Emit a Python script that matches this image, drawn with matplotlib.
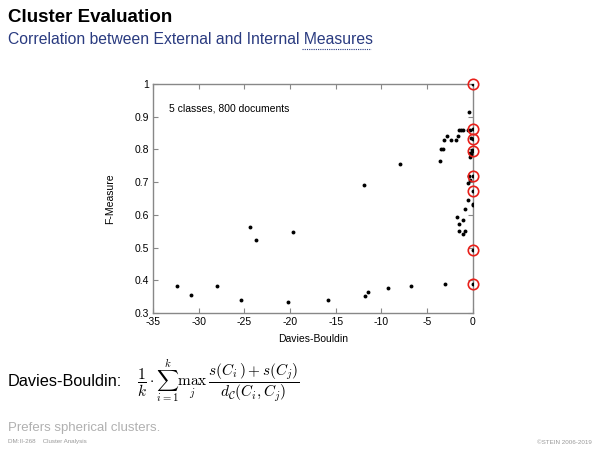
import matplotlib
matplotlib.use("Agg")
import matplotlib.pyplot as plt
from matplotlib.lines import Line2D

plt.rcParams['font.family'] = ['Liberation Sans', 'DejaVu Sans']
plt.rcParams['mathtext.fontset'] = 'cm'

# Davies-Bouldin index vs F-Measure for the clusterings
db_values = [-32.34, -30.88, -27.96, -25.34, -24.43, -23.77, -20.24, -19.65,
             -15.82, -11.96, -11.85, -11.45, -9.33, -8.02, -6.78, -3.03,
             -3.54, -3.46, -3.28, -3.17, -2.77, -2.44, -1.79, -1.64, -1.53,
             -1.28, -1.02, -0.55, -0.26, -0.40, 0.0, 0.0, 0.0, -0.18, 0.0,
             -0.21, -0.29, -0.14, -0.30, 0.0, -0.37, -0.48, -0.26, 0.0, -0.55,
             0.0, 0.0, -0.80, -1.72, -1.09, -1.53, -1.46, -1.09, -0.80, 0.0, 0.0]
f_values = [0.383, 0.354, 0.383, 0.340, 0.562, 0.523, 0.334, 0.547,
            0.341, 0.691, 0.353, 0.363, 0.376, 0.754, 0.383, 0.388,
            0.765, 0.800, 0.800, 0.828, 0.842, 0.828, 0.828, 0.842, 0.858,
            0.858, 0.858, 0.858, 0.858, 0.915, 1.0, 0.861, 0.833, 0.836, 0.794,
            0.785, 0.778, 0.799, 0.790, 0.719, 0.719, 0.697, 0.706, 0.672, 0.644,
            0.634, 0.629, 0.619, 0.592, 0.585, 0.571, 0.552, 0.542, 0.552, 0.492, 0.388]

# highlighted clusterings (best Davies-Bouldin value)
circled_db = [0, 0, 0, 0, 0, 0, 0, 0]
circled_f = [1.0, 0.861, 0.833, 0.794, 0.719, 0.672, 0.492, 0.388]

x_ticks = [-35, -30, -25, -20, -15, -10, -5, 0]
y_ticks = [0.3, 0.4, 0.5, 0.6, 0.7, 0.8, 0.9, 1.0]
y_labels = ['0.3', '0.4', '0.5', '0.6', '0.7', '0.8', '0.9', '1']

fig = plt.figure(figsize=(6, 4.5), dpi=100)
ax = fig.add_axes([0.255, 0.3044, 0.533, 0.5089])

ax.plot(db_values, f_values, 'o', color='black', markersize=2.8, markeredgewidth=0, zorder=3)
ax.plot(circled_db, circled_f, 'o', markerfacecolor='none', markeredgecolor='#e8201a',
        markersize=7.5, markeredgewidth=1.2, zorder=4, clip_on=False)

ax.set_xlim(-35, 0)
ax.set_ylim(0.3, 1.0)
ax.set_xticks(x_ticks)
ax.set_xticklabels([str(t) for t in x_ticks])
ax.set_yticks(y_ticks)
ax.set_yticklabels(y_labels)
ax.tick_params(direction='in', length=3.5, width=0.8, color='#888888',
               labelsize=7.5, top=True, right=True, pad=3)
for s in ax.spines.values():
    s.set_color('#888888')
    s.set_linewidth(1.0)

ax.set_xlabel('Davies-Bouldin', fontsize=7.5, labelpad=5)
ax.set_ylabel('F-Measure', fontsize=7.5, labelpad=14)
ax.text(-33.2, 0.925, '5 classes, 800 documents', fontsize=7.5, va='center', ha='left')

# slide texts
fig.text(8 / 600, 1 - 18 / 450, 'Cluster Evaluation', fontsize=13.5, fontweight='bold',
         va='center', ha='left', color='black')
fig.text(8 / 600, 1 - 40 / 450, 'Correlation between External and Internal Measures',
         fontsize=11.3, va='center', ha='left', color='#2a3b80')
fig.add_artist(Line2D([302 / 600, 371 / 600], [1 - 49 / 450, 1 - 49 / 450],
                      color='#2a3b80', linestyle=(0, (1, 1)), linewidth=0.8))

fig.text(8 / 600, 1 - 382 / 450, 'Davies-Bouldin:', fontsize=11.7, va='center', ha='left')
fig.text(137 / 600, 1 - 381 / 450,
         r'$\dfrac{1}{k}\cdot\sum_{i=1}^{k}\max_{j}\,\dfrac{s(C_i)+s(C_j)}{d_{\mathcal{C}}(C_i,C_j)}$',
         fontsize=11, va='center', ha='left')

fig.text(8 / 600, 1 - 428 / 450, 'Prefers spherical clusters.', fontsize=9.5,
         va='center', ha='left', color='#b0b0b0')
fig.text(8 / 600, 1 - 442 / 450, 'DM:II-268    Cluster Analysis', fontsize=4.5,
         va='center', ha='left', color='#999999')
fig.text(592 / 600, 1 - 442 / 450, '\u00a9STEIN 2006-2019', fontsize=4.5,
         va='center', ha='right', color='#999999')

fig.savefig('out.png', dpi=100)
